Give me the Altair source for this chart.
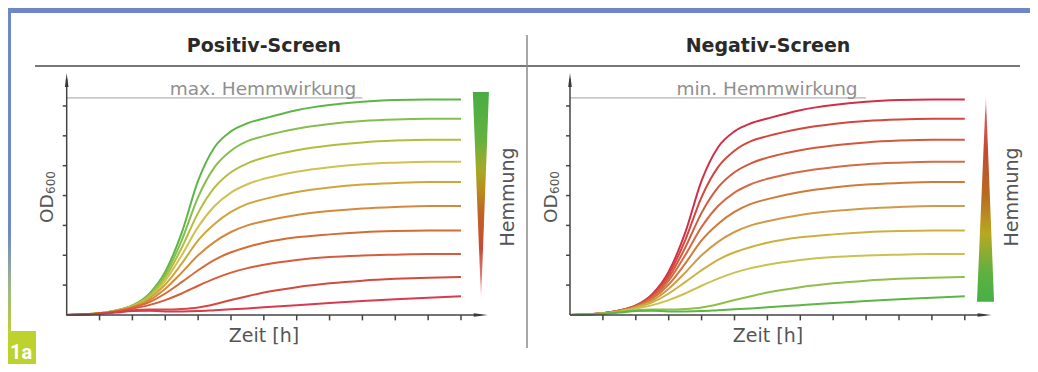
import altair as alt
import pandas as pd

# ---------------- data ----------------
T = [0, 1, 1.5, 2, 2.5, 3, 3.5, 4, 4.5, 5, 5.5, 6, 7, 8, 9, 10, 11, 12]
C1 = [0, 0.06, 0.15, 0.32, 0.70, 1.45, 2.75, 4.50, 5.62, 6.15, 6.42, 6.58, 6.86, 7.03, 7.14, 7.20, 7.22, 7.22]
C2 = [0, 0.06, 0.15, 0.31, 0.66, 1.35, 2.50, 3.95, 4.95, 5.50, 5.82, 5.99, 6.24, 6.40, 6.50, 6.55, 6.57, 6.57]
C3 = [0, 0.06, 0.14, 0.30, 0.62, 1.25, 2.25, 3.42, 4.27, 4.78, 5.08, 5.27, 5.52, 5.68, 5.78, 5.84, 5.87, 5.87]
C4 = [0, 0.06, 0.14, 0.29, 0.58, 1.15, 2.00, 2.95, 3.65, 4.10, 4.38, 4.56, 4.80, 4.95, 5.05, 5.10, 5.13, 5.13]
C5 = [0, 0.05, 0.13, 0.27, 0.54, 1.02, 1.72, 2.50, 3.05, 3.45, 3.72, 3.88, 4.12, 4.27, 4.37, 4.42, 4.45, 4.45]
C6 = [0, 0.05, 0.13, 0.26, 0.48, 0.88, 1.42, 2.00, 2.45, 2.78, 3.00, 3.14, 3.35, 3.48, 3.57, 3.62, 3.65, 3.65]
C7 = [0, 0.05, 0.12, 0.24, 0.42, 0.72, 1.10, 1.50, 1.85, 2.10, 2.28, 2.42, 2.60, 2.70, 2.77, 2.81, 2.83, 2.83]
C8 = [0, 0.05, 0.11, 0.21, 0.33, 0.50, 0.72, 0.98, 1.22, 1.42, 1.57, 1.68, 1.84, 1.94, 1.99, 2.02, 2.04, 2.04]
C9 = [0, 0.05, 0.10, 0.16, 0.18, 0.18, 0.20, 0.25, 0.36, 0.50, 0.63, 0.75, 0.93, 1.06, 1.15, 1.21, 1.25, 1.27]
C10 = [0, 0.04, 0.08, 0.13, 0.14, 0.12, 0.12, 0.13, 0.16, 0.19, 0.22, 0.26, 0.33, 0.40, 0.47, 0.53, 0.58, 0.63]
CURVES = [C1, C2, C3, C4, C5, C6, C7, C8, C9, C10]

POS_COLORS = ["#5cb646", "#86be4e", "#b2bd3e", "#cfc152", "#cfa63c",
              "#d48a3c", "#d46c36", "#d65c3c", "#d44a3e", "#d83a50"]
NEG_COLORS = ["#cf3048", "#d2473e", "#d25a3c", "#d56b45", "#d0793a",
              "#d09a48", "#cdb040", "#c9c250", "#8fbf4a", "#5cb646"]

X_TICKS = list(range(1, 13))
Y_TICKS = list(range(1, 8))
PANEL_TITLES = ["Positiv-Screen", "Negativ-Screen"]
REF_LABELS = ["max. Hemmwirkung", "min. Hemmwirkung"]
REF_LEVEL = 7.27
REF_END = 9
X_TITLE = "Zeit [h]"
Y_TITLE = "OD"
Y_SUB = "600"
LEGEND_TITLE = "Hemmung"
PANEL_TAG = "1a"

# ---------------- layout ----------------
W, H = 1022, 356
YDOM = [-1.641, 10.281]
XDOM = {"P": [-1.786, 29.316], "N": [-17.082, 13.982]}
DX = 504  # pixel shift of the right panel's texts
FONT = "DejaVu Sans"
ONE = pd.DataFrame({"d": [0]})


def xq(field, p):
    return alt.X(field, type="quantitative",
                 scale=alt.Scale(domain=XDOM[p], nice=False, zero=False), axis=None)


def yq(field):
    return alt.Y(field, type="quantitative",
                 scale=alt.Scale(domain=YDOM, nice=False, zero=False), axis=None)


keys, colors = [], []
for p, cols in (("P", POS_COLORS), ("N", NEG_COLORS)):
    for i in range(10):
        keys.append(f"{p}{i+1}")
        colors.append(cols[i])

layers = []

# frame decorations
strip_grad = alt.LinearGradient(gradient="linear", x1=0, x2=0, y1=0, y2=1, stops=[
    alt.GradientStop(color="#6f87c9", offset=0),
    alt.GradientStop(color="#6f87c9", offset=0.63),
    alt.GradientStop(color="#9fb58a", offset=0.78),
    alt.GradientStop(color="#bdd22f", offset=0.92),
    alt.GradientStop(color="#bdd22f", offset=1)])
layers.append(alt.Chart(ONE).mark_rect(color=strip_grad).encode(
    x=alt.value(-3), x2=alt.value(3), y=alt.value(0), y2=alt.value(H)))
layers.append(alt.Chart(ONE).mark_rect(color="#6f87c9").encode(
    x=alt.value(-3), x2=alt.value(W), y=alt.value(0), y2=alt.value(5)))
layers.append(alt.Chart(ONE).mark_rect(color="#bdd22f").encode(
    x=alt.value(-3), x2=alt.value(28), y=alt.value(323), y2=alt.value(H)))
layers.append(alt.Chart(ONE).mark_text(text=PANEL_TAG, font="Roboto", fontSize=20,
                                        fontWeight="bold", color="white", align="left",
                                        baseline="alphabetic").encode(
    x=alt.value(2), y=alt.value(351)))

# title separator lines
layers.append(alt.Chart(ONE).mark_rule(color="#777777", strokeWidth=1.8).encode(
    x=alt.value(27), x2=alt.value(1012), y=alt.value(58)))
layers.append(alt.Chart(ONE).mark_rule(color="#8a8a8a", strokeWidth=1.5).encode(
    x=alt.value(519), y=alt.value(27), y2=alt.value(340)))

for pi, p in enumerate(("P", "N")):
    off = DX * pi
    # reference line
    ref = pd.DataFrame({"x": [0], "x2": [REF_END], "y": [REF_LEVEL], "y2": [REF_LEVEL]})
    layers.append(alt.Chart(ref).mark_rule(color="#a0a0a0", strokeWidth=1).encode(
        x=xq("x", p), x2="x2:Q", y=yq("y"), y2="y2:Q"))

    # curves
    rows = []
    for i, c in enumerate(CURVES):
        for t, v in zip(T, c):
            rows.append({"key": f"{p}{i+1}", "t": t, "v": v})
    cdf = pd.DataFrame(rows)
    layers.append(alt.Chart(cdf).mark_line(strokeWidth=2, interpolate="monotone").encode(
        x=xq("t", p), y=yq("v"),
        color=alt.Color("key:N", scale=alt.Scale(domain=keys, range=colors), legend=None)))

    # axes + ticks (segments in data units)
    seg = [{"x": 0, "y": 0, "x2": 0, "y2": 7.9}, {"x": 0, "y": 0, "x2": 12.6, "y2": 0}]
    seg += [{"x": k, "y": 0, "x2": k, "y2": -0.18} for k in X_TICKS]
    seg += [{"x": -0.12, "y": k, "x2": 0, "y2": k} for k in Y_TICKS]
    sdf = pd.DataFrame(seg)
    layers.append(alt.Chart(sdf).mark_rule(color="#444444", strokeWidth=1.5).encode(
        x=xq("x", p), x2="x2:Q", y=yq("y"), y2="y2:Q"))

    # arrow heads
    layers.append(alt.Chart(pd.DataFrame({"x": [0], "y": [7.87]})).mark_point(
        shape="M0,-1L0.26,1L-0.26,1Z", size=196, filled=True, opacity=1, color="#3a3a3a").encode(
        x=xq("x", p), y=yq("y")))
    layers.append(alt.Chart(pd.DataFrame({"x": [12.6], "y": [0]})).mark_point(
        shape="M1,0L-1,0.26L-1,-0.26Z", size=196, filled=True, opacity=1, color="#3a3a3a").encode(
        x=xq("x", p), y=yq("y")))

    # gradient wedge (legend of inhibition)
    if p == "P":
        tri = pd.DataFrame({"v": [7.47, 0.50], "xl": [12.36, 12.61], "xr": [12.85, 12.61]})
        stops = [("#48ad45", 0), ("#62b23f", 0.22), ("#a8a826", 0.38), ("#b98a1e", 0.48),
                 ("#bf6422", 0.58), ("#c84a35", 0.75), ("#e08080", 0.9), ("#fbeaea", 1)]
    else:
        tri = pd.DataFrame({"v": [7.37, 0.44], "xl": [12.64, 12.37], "xr": [12.64, 12.89]})
        stops = [("#f6dede", 0), ("#d06060", 0.1), ("#c44a30", 0.27), ("#b86a20", 0.48),
                 ("#b8a820", 0.67), ("#62b040", 0.85), ("#46b046", 1)]
    grad = alt.LinearGradient(gradient="linear", x1=0, x2=0, y1=0, y2=1,
                              stops=[alt.GradientStop(color=c, offset=o) for c, o in stops])
    layers.append(alt.Chart(tri).mark_area(orient="horizontal", color=grad).encode(
        y=yq("v"), x=xq("xl", p), x2="xr:Q"))

    # texts
    layers.append(alt.Chart(ONE).mark_text(text=PANEL_TITLES[pi], font=FONT, fontSize=19,
                                            fontWeight="bold", color="#2a2a2a",
                                            baseline="alphabetic").encode(
        x=alt.value(256 + off), y=alt.value(44)))
    layers.append(alt.Chart(ONE).mark_text(text=REF_LABELS[pi], font=FONT, fontSize=18.5,
                                            color="#8f8f8f", baseline="alphabetic").encode(
        x=alt.value(255 + off), y=alt.value(87)))
    layers.append(alt.Chart(ONE).mark_text(text=X_TITLE, font=FONT, fontSize=19,
                                            color="#555555", baseline="alphabetic").encode(
        x=alt.value(256 + off), y=alt.value(334)))
    layers.append(alt.Chart(ONE).mark_text(text=Y_TITLE, font=FONT, fontSize=18.5, angle=270,
                                            color="#555555", align="left",
                                            baseline="alphabetic").encode(
        x=alt.value(45 + off), y=alt.value(215)))
    layers.append(alt.Chart(ONE).mark_text(text=Y_SUB, font=FONT, fontSize=12, angle=270,
                                            color="#555555", align="left",
                                            baseline="alphabetic").encode(
        x=alt.value(47 + off), y=alt.value(186)))
    layers.append(alt.Chart(ONE).mark_text(text=LEGEND_TITLE, font=FONT, fontSize=19, angle=270,
                                            color="#555555", align="center",
                                            baseline="alphabetic").encode(
        x=alt.value(506 + off), y=alt.value(189)))

chart = alt.layer(*layers).properties(
    width=W, height=H, padding=0,
    autosize=alt.AutoSizeParams(type="none"),
    background="white",
).resolve_scale(x="independent").configure_view(stroke=None)

chart.save("out.html", embed_options={"renderer": "svg", "actions": False})
